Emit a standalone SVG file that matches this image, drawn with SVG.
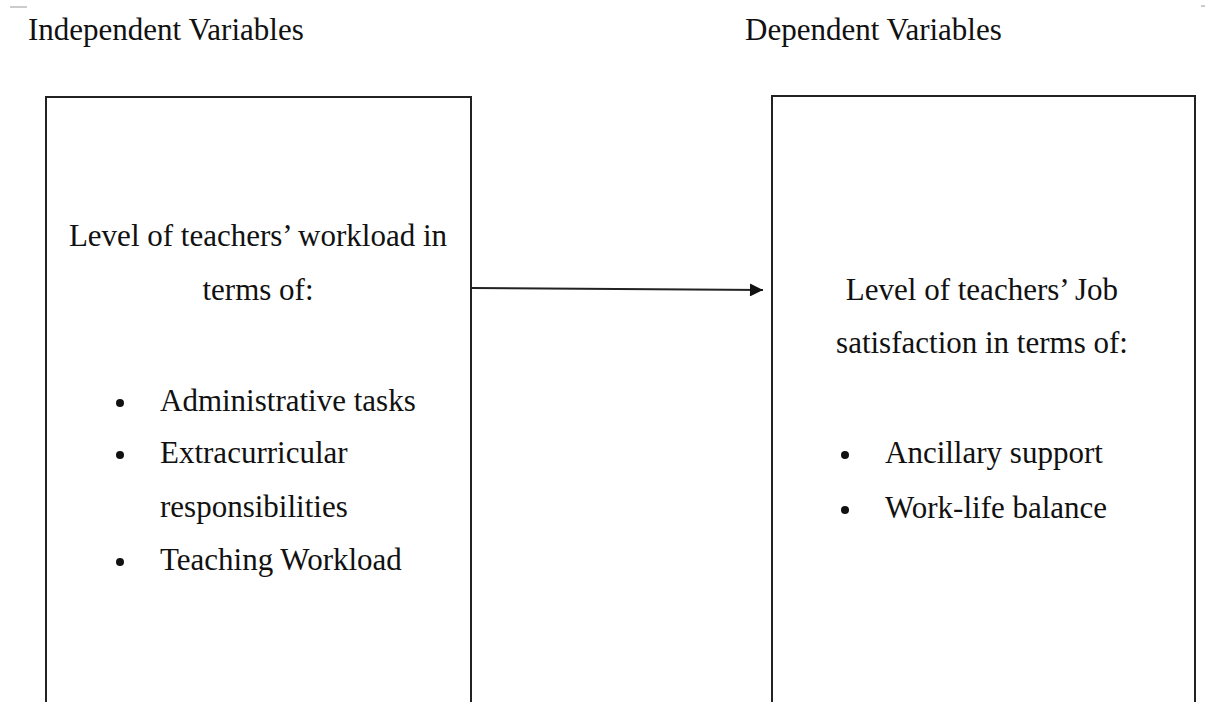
<svg xmlns="http://www.w3.org/2000/svg" width="1206" height="702" viewBox="0 0 1206 702">
<style>
text{font-family:"Liberation Serif","Times New Roman",serif;font-size:31px;fill:#111}
.c{text-anchor:middle}
.box{fill:#fff;stroke:#222;stroke-width:2}
.con{stroke:#222;stroke-width:2;fill:none}
</style>
<defs>
<marker id="ah" viewBox="0 0 10 10" refX="10" refY="5" markerWidth="8" markerHeight="6.5" markerUnits="strokeWidth" orient="auto">
<path d="M0,0 L10,5 L0,10 z" fill="#111"/>
</marker>
</defs>
<rect width="1206" height="702" fill="#fff"/>
<line x1="10" y1="7" x2="27" y2="7" stroke="#bbb" stroke-width="1.5"/>
<line x1="1201" y1="6" x2="1205" y2="6" stroke="#bbb" stroke-width="1.5"/>
<text x="28" y="40">Independent Variables</text>
<text x="745" y="40">Dependent Variables</text>
<g id="independent">
<rect class="box" x="46" y="97" width="425" height="620"/>
<text class="c" x="258" y="246">Level of teachers’ workload in</text>
<text class="c" x="258" y="300">terms of:</text>
<circle cx="120" cy="403" r="4" fill="#111"/>
<text x="160" y="411">Administrative tasks</text>
<circle cx="120" cy="455" r="4" fill="#111"/>
<text x="160" y="463">Extracurricular</text>
<text x="160" y="517">responsibilities</text>
<circle cx="120" cy="562" r="4" fill="#111"/>
<text x="160" y="570">Teaching Workload</text>
</g>
<g id="dependent">
<rect class="box" x="772" y="96" width="423" height="620"/>
<text class="c" x="982" y="300">Level of teachers’ Job</text>
<text class="c" x="982" y="353">satisfaction in terms of:</text>
<circle cx="845" cy="455" r="4" fill="#111"/>
<text x="885" y="463">Ancillary support</text>
<circle cx="845" cy="510" r="4" fill="#111"/>
<text x="885" y="518">Work-life balance</text>
</g>
<g id="connectors">
<line class="con" x1="472" y1="288" x2="763" y2="290" marker-end="url(#ah)"/>
</g>
</svg>
